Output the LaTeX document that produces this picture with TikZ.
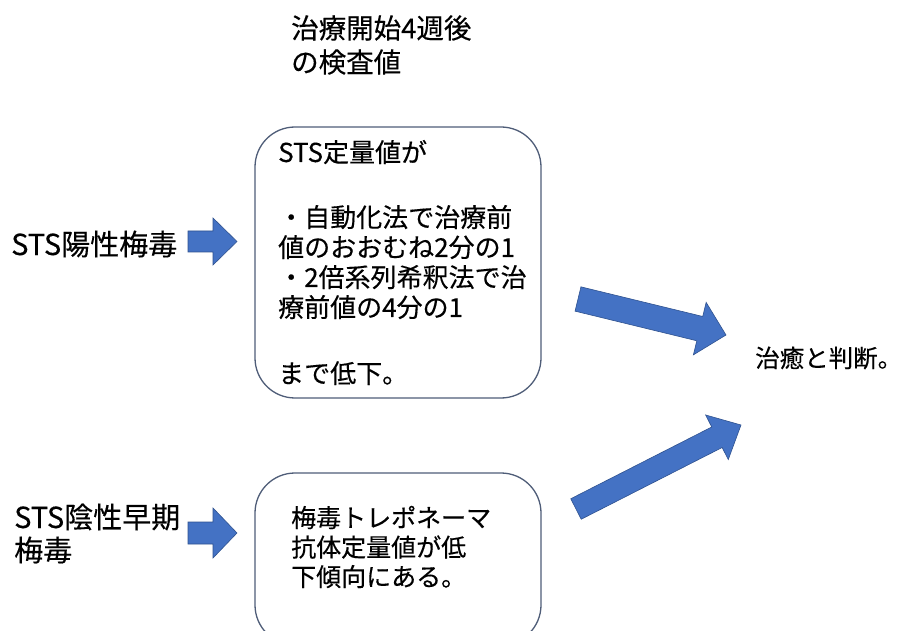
\documentclass[tikz,border=0pt]{standalone}
\usepackage{fontspec}
\newfontfamily\jp[FakeBold=0.3]{Noto Sans CJK JP}
\usetikzlibrary{calc}
\definecolor{arrowfill}{HTML}{4472C4}
\definecolor{arrowedge}{HTML}{2F528F}
\definecolor{boxedge}{HTML}{4F5D78}
\newcommand{\blockarr}[6]{%
  \coordinate (#6) at ($(#2)!#5!(#1)$);
  \filldraw[blockarrow] ($(#1)!#3!90:(#2)$) -- ($(#6)!#3!90:(#2)$) -- ($(#6)!#4!90:(#2)$) -- (#2)
    -- ($(#6)!#4!-90:(#2)$) -- ($(#6)!#3!-90:(#2)$) -- ($(#1)!#3!-90:(#2)$) -- cycle;}
\begin{document}
\begin{tikzpicture}[x=1pt,y=-1pt,
  txt/.style={font=\jp, inner sep=0pt, anchor=west, align=left, text=black},
  roundbox/.style={draw=boxedge, line width=1.3pt, rounded corners=40pt, inner sep=0pt},
  blockarrow/.style={fill=arrowfill, draw=arrowedge, line width=0.6pt, line join=miter}]
\useasboundingbox (0,0) rectangle (903,631);
\clip (0,0) rectangle (903,631);
\fill[white] (0,0) rectangle (903,631);

% title
\node[txt, font=\jp\fontsize{27.5}{34}\selectfont] (title) at (291,45) {治療開始4週後\\の検査値};

% box 1
\node[roundbox, minimum width=286pt, minimum height=271pt] (box1) at (398,262.5) {};
\node[txt, font=\jp\fontsize{26}{30}\selectfont] (text1) at (278,262.5)
  {STS定量値が\\[35pt]・自動化法で治療前\\値のおおむね2分の1\\・2倍系列希釈法で治\\療前値の4分の1\\[36pt]まで低下。};

% box 2
\node[roundbox, minimum width=286pt, minimum height=172pt] (box2) at (398,559) {};
\node[txt, font=\jp\fontsize{25}{29.5}\selectfont] (text2) at (291,547)
  {梅毒トレポネーマ\\抗体定量値が低\\下傾向にある。};

% left labels
\node[txt, font=\jp\fontsize{29}{33}\selectfont] (pos) at (11,244) {STS陽性梅毒};
\node[txt, font=\jp\fontsize{29}{33}\selectfont] (neg) at (14,533.5) {STS陰性早期\\梅毒};

% result
\node[txt, font=\jp\fontsize{24.5}{30}\selectfont] (result) at (755,358) {治癒と判断。};

% arrow end points
\coordinate (s1a) at (188,241.5);
\coordinate (s1b) at (237,241.5);
\coordinate (s2a) at (188,533);
\coordinate (s2b) at (237,533);
\coordinate (b1a) at (578,299);
\coordinate (b1b) at (726,335);
\coordinate (b2a) at (576,509);
\coordinate (b2b) at (741,425);

\blockarr{s1a}{s1b}{10.5pt}{23.5pt}{24pt}{h1}
\blockarr{s2a}{s2b}{11pt}{25pt}{24pt}{h2}
\blockarr{b1a}{b1b}{12.5pt}{27pt}{27pt}{h3}
\blockarr{b2a}{b2b}{11.5pt}{25pt}{27pt}{h4}
\end{tikzpicture}
\end{document}
